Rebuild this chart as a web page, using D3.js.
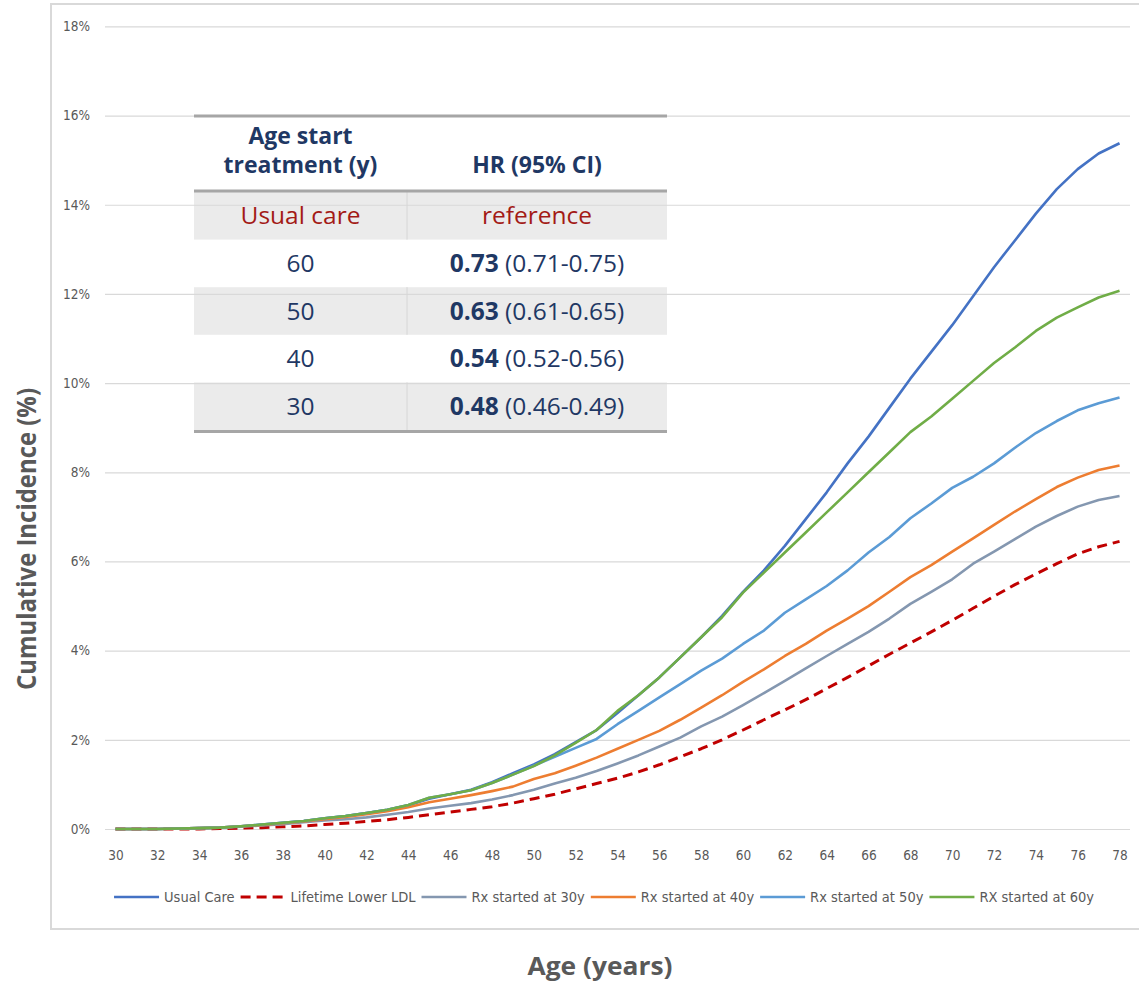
<!DOCTYPE html>
<html lang="en">
<head>
<meta charset="UTF-8">
<title>Cumulative incidence by age</title>
<script src="https://d3js.org/d3.v7.min.js"></script>
<style>
  html, body { margin: 0; padding: 0; background: #fff; }
  svg { display: block; }
  .tick text { font-family: 'Liberation Sans Narrow', 'DejaVu Sans Condensed', sans-serif; font-size: 13.5px; fill: #595959; }
</style>
</head>
<body>
<div id="vis"></div>
<script>
// ---- data ----
var ages = [30,31,32,33,34,35,36,37,38,39,40,41,42,43,44,45,46,47,48,49,50,51,52,53,54,
            55,56,57,58,59,60,61,62,63,64,65,66,67,68,69,70,71,72,73,74,75,76,77,78];
var xTicks = [30,32,34,36,38,40,42,44,46,48,50,52,54,56,58,60,62,64,66,68,70,72,74,76,78];
var yTicks = [0,2,4,6,8,10,12,14,16,18];

var usualCare = [0,0,0,0.01,0.02,0.03,0.06,0.10,0.14,0.18,0.24,0.29,0.36,0.43,0.53,0.68,0.78,0.88,1.05,1.25,
                 1.45,1.68,1.95,2.22,2.6,3.0,3.4,3.85,4.3,4.78,5.32,5.8,6.35,6.95,7.55,8.2,8.8,9.45,10.1,10.7,
                 11.3,11.95,12.6,13.2,13.8,14.35,14.8,15.15,15.38];
var lifetimeLDL = [0,0,0,0,0,0.01,0.02,0.03,0.05,0.07,0.10,0.13,0.17,0.21,0.26,0.32,0.38,0.44,0.50,0.58,
                   0.68,0.78,0.90,1.02,1.14,1.28,1.44,1.62,1.80,2.00,2.22,2.45,2.67,2.90,3.15,3.40,3.66,3.92,4.17,4.42,
                   4.68,4.95,5.22,5.48,5.72,5.95,6.17,6.33,6.45];
var rx30 = [0,0,0,0.01,0.02,0.03,0.05,0.08,0.11,0.15,0.19,0.22,0.26,0.32,0.38,0.46,0.52,0.58,0.66,0.76,
            0.88,1.02,1.15,1.30,1.47,1.65,1.85,2.05,2.30,2.52,2.78,3.05,3.32,3.60,3.88,4.15,4.42,4.72,5.05,5.32,
            5.60,5.95,6.22,6.50,6.78,7.02,7.23,7.38,7.47];
var rx40 = [0,0,0,0.01,0.02,0.03,0.06,0.09,0.13,0.17,0.22,0.27,0.33,0.40,0.49,0.60,0.68,0.76,0.85,0.95,
            1.12,1.25,1.42,1.60,1.80,2.00,2.20,2.45,2.72,3.00,3.30,3.58,3.88,4.15,4.45,4.72,5.00,5.32,5.65,5.92,
            6.22,6.52,6.82,7.12,7.40,7.67,7.88,8.05,8.15];
var rx50 = [0,0,0,0.01,0.02,0.03,0.06,0.10,0.14,0.18,0.24,0.29,0.36,0.43,0.54,0.70,0.78,0.87,1.03,1.22,
            1.42,1.62,1.82,2.02,2.35,2.65,2.95,3.25,3.55,3.82,4.15,4.45,4.85,5.15,5.45,5.80,6.20,6.55,6.97,7.30,
            7.65,7.90,8.20,8.55,8.88,9.15,9.39,9.55,9.68];
var rx60 = [0,0,0,0.01,0.02,0.03,0.06,0.10,0.14,0.18,0.24,0.29,0.36,0.43,0.54,0.70,0.78,0.87,1.03,1.22,
            1.41,1.65,1.93,2.22,2.65,3.00,3.40,3.85,4.30,4.75,5.30,5.75,6.20,6.65,7.10,7.55,8.00,8.45,8.90,9.25,
            9.65,10.05,10.45,10.80,11.17,11.47,11.70,11.92,12.07];

var seriesNames = ["Usual Care", "Lifetime Lower LDL", "Rx started at 30y", "Rx started at 40y", "Rx started at 50y", "RX started at 60y"];
var seriesValues = [usualCare, lifetimeLDL, rx30, rx40, rx50, rx60];
var seriesColors = ["#4472c4", "#c00000", "#8497b0", "#ed7d31", "#5b9bd5", "#70ad47"];
var seriesDash = [null, "10,6", null, null, null, null];

var tableStart = ["Usual care", "60", "50", "40", "30"];
var tableHR = ["reference", "0.73", "0.63", "0.54", "0.48"];
var tableCI = ["", "(0.71-0.75)", "(0.61-0.65)", "(0.52-0.56)", "(0.46-0.49)"];

// ---- layout ----
var width = 1139, height = 983;
var plot = { left: 105, right: 1130, top: 26.4, bottom: 829 };
var navy = "#1f3864", red = "#a31a16", grey = "#595959";

var svg = d3.select('#vis').append('svg')
    .attr('width', width)
    .attr('height', height);

// chart border
svg.append('rect')
    .attr('x', 51).attr('y', 4)
    .attr('width', 1100).attr('height', 925)
    .attr('fill', 'none')
    .attr('stroke', '#d9d9d9')
    .attr('stroke-width', 2);

var x_scale = d3.scalePoint()
    .domain(ages)
    .range([plot.left, plot.right])
    .padding(0.5);

var y_scale = d3.scaleLinear()
    .domain([0, 18])
    .range([plot.bottom, plot.top]);

// table backgrounds (under the gridlines)
var tab = { left: 194, right: 667, mid: 407, headTop: 116, headBottom: 191, rowH: 47.6 };
var rowTop = function(i) { return tab.headBottom + 1 + i * tab.rowH; };

svg.append('g').selectAll('rect')
    .data(tableStart)
    .enter()
    .filter(function(d, i) { return i % 2 === 0; })
    .append('rect')
    .attr('x', tab.left)
    .attr('y', function(d) { return rowTop(tableStart.indexOf(d)); })
    .attr('width', tab.right - tab.left)
    .attr('height', tab.rowH)
    .attr('fill', '#ebebeb');

// y axis + gridlines
var y_axis = d3.axisLeft(y_scale)
    .tickValues(yTicks)
    .tickSize(-(plot.right - plot.left))
    .tickPadding(15)
    .tickFormat(function(d) { return d + '%'; });

var gy = svg.append('g')
    .attr('transform', 'translate(' + plot.left + ',0)')
    .call(y_axis);
gy.select('.domain').remove();
gy.selectAll('.tick line').attr('stroke', '#d9d9d9').attr('stroke-width', 1.2);

// x axis labels
var x_axis = d3.axisBottom(x_scale)
    .tickValues(xTicks)
    .tickSize(0)
    .tickPadding(21);

var gx = svg.append('g')
    .attr('transform', 'translate(0,' + plot.bottom + ')')
    .call(x_axis);
gx.select('.domain').remove();

// table divider + lines + text
[0, 2, 4].forEach(function(i) {
    svg.append('line')
        .attr('x1', tab.mid).attr('x2', tab.mid)
        .attr('y1', rowTop(i)).attr('y2', rowTop(i) + tab.rowH)
        .attr('stroke', '#d6d6d6').attr('stroke-width', 1);
});

[tab.headTop, tab.headBottom, rowTop(5) + 1.5].forEach(function(yy) {
    svg.append('line')
        .attr('x1', tab.left).attr('x2', tab.right)
        .attr('y1', yy).attr('y2', yy)
        .attr('stroke', '#a6a6a6').attr('stroke-width', 3);
});

var c1 = 300.5, c2 = 537;
var tableFont = "'Open Sans', 'Noto Sans', sans-serif";

svg.append('text')
    .attr('x', c1).attr('y', 144)
    .attr('text-anchor', 'middle')
    .attr('font-family', tableFont).attr('font-weight', 'bold').attr('font-size', 23)
    .attr('fill', navy)
    .text('Age start');
svg.append('text')
    .attr('x', c1).attr('y', 173)
    .attr('text-anchor', 'middle')
    .attr('font-family', tableFont).attr('font-weight', 'bold').attr('font-size', 23)
    .attr('fill', navy)
    .text('treatment (y)');
svg.append('text')
    .attr('x', c2).attr('y', 173)
    .attr('text-anchor', 'middle')
    .attr('font-family', tableFont).attr('font-weight', 'bold').attr('font-size', 23)
    .attr('fill', navy)
    .text('HR (95% CI)');

tableStart.forEach(function(d, i) {
    var base = rowTop(i) + tab.rowH / 2 + 8.5;
    svg.append('text')
        .attr('x', c1).attr('y', base)
        .attr('text-anchor', 'middle')
        .attr('font-family', tableFont).attr('font-size', 24.5)
        .attr('fill', i === 0 ? red : navy)
        .text(d);

    var t = svg.append('text')
        .attr('x', c2).attr('y', base)
        .attr('text-anchor', 'middle')
        .attr('font-family', tableFont).attr('font-size', 24.5)
        .attr('fill', i === 0 ? red : navy);
    if (i === 0) {
        t.text(tableHR[i]);
    } else {
        t.append('tspan').attr('font-weight', 'bold').text(tableHR[i]);
        t.append('tspan').text(' ' + tableCI[i]);
    }
});

// series lines
var line = d3.line()
    .x(function(d, i) { return x_scale(ages[i]); })
    .y(function(d) { return y_scale(d); });

svg.append('g').selectAll('path')
    .data(seriesValues)
    .enter()
    .append('path')
    .attr('d', line)
    .attr('fill', 'none')
    .attr('stroke', function(d, i) { return seriesColors[i]; })
    .attr('stroke-width', function(d, i) { return i === 1 ? 3 : 2.6; })
    .attr('stroke-dasharray', function(d, i) { return seriesDash[i]; })
    .attr('stroke-linejoin', 'round');

// legend
var legend = svg.append('g').attr('transform', 'translate(0,897)');
var cursor = 0;
var legendFont = "'Liberation Sans Narrow', 'DejaVu Sans Condensed', sans-serif";
seriesNames.forEach(function(name, i) {
    var item = legend.append('g').attr('transform', 'translate(' + cursor + ',0)');
    item.append('line')
        .attr('x1', 0).attr('x2', 45)
        .attr('y1', 0).attr('y2', 0)
        .attr('stroke', seriesColors[i])
        .attr('stroke-width', i === 1 ? 3 : 2.6)
        .attr('stroke-dasharray', i === 1 ? '10,6' : null);
    var txt = item.append('text')
        .attr('x', 50).attr('y', 5)
        .attr('font-family', legendFont).attr('font-size', 14.5)
        .attr('fill', grey)
        .text(name);
    cursor += 50 + txt.node().getComputedTextLength() + 6;
});
var legendWidth = cursor - 6;
legend.attr('transform', 'translate(' + (604 - legendWidth / 2) + ',897)');

// axis titles
svg.append('text')
    .attr('transform', 'translate(36,539) rotate(-90)')
    .attr('text-anchor', 'middle')
    .attr('font-family', "'Open Sans', sans-serif")
    .attr('font-weight', 'bold').attr('font-size', 27)
    .attr('fill', grey)
    .attr('textLength', 302).attr('lengthAdjust', 'spacingAndGlyphs')
    .text('Cumulative Incidence (%)');

svg.append('text')
    .attr('x', 600).attr('y', 975)
    .attr('text-anchor', 'middle')
    .attr('font-family', "'Open Sans', sans-serif")
    .attr('font-weight', 'bold').attr('font-size', 25)
    .attr('fill', grey)
    .attr('textLength', 145).attr('lengthAdjust', 'spacingAndGlyphs')
    .text('Age (years)');
</script>
</body>
</html>
